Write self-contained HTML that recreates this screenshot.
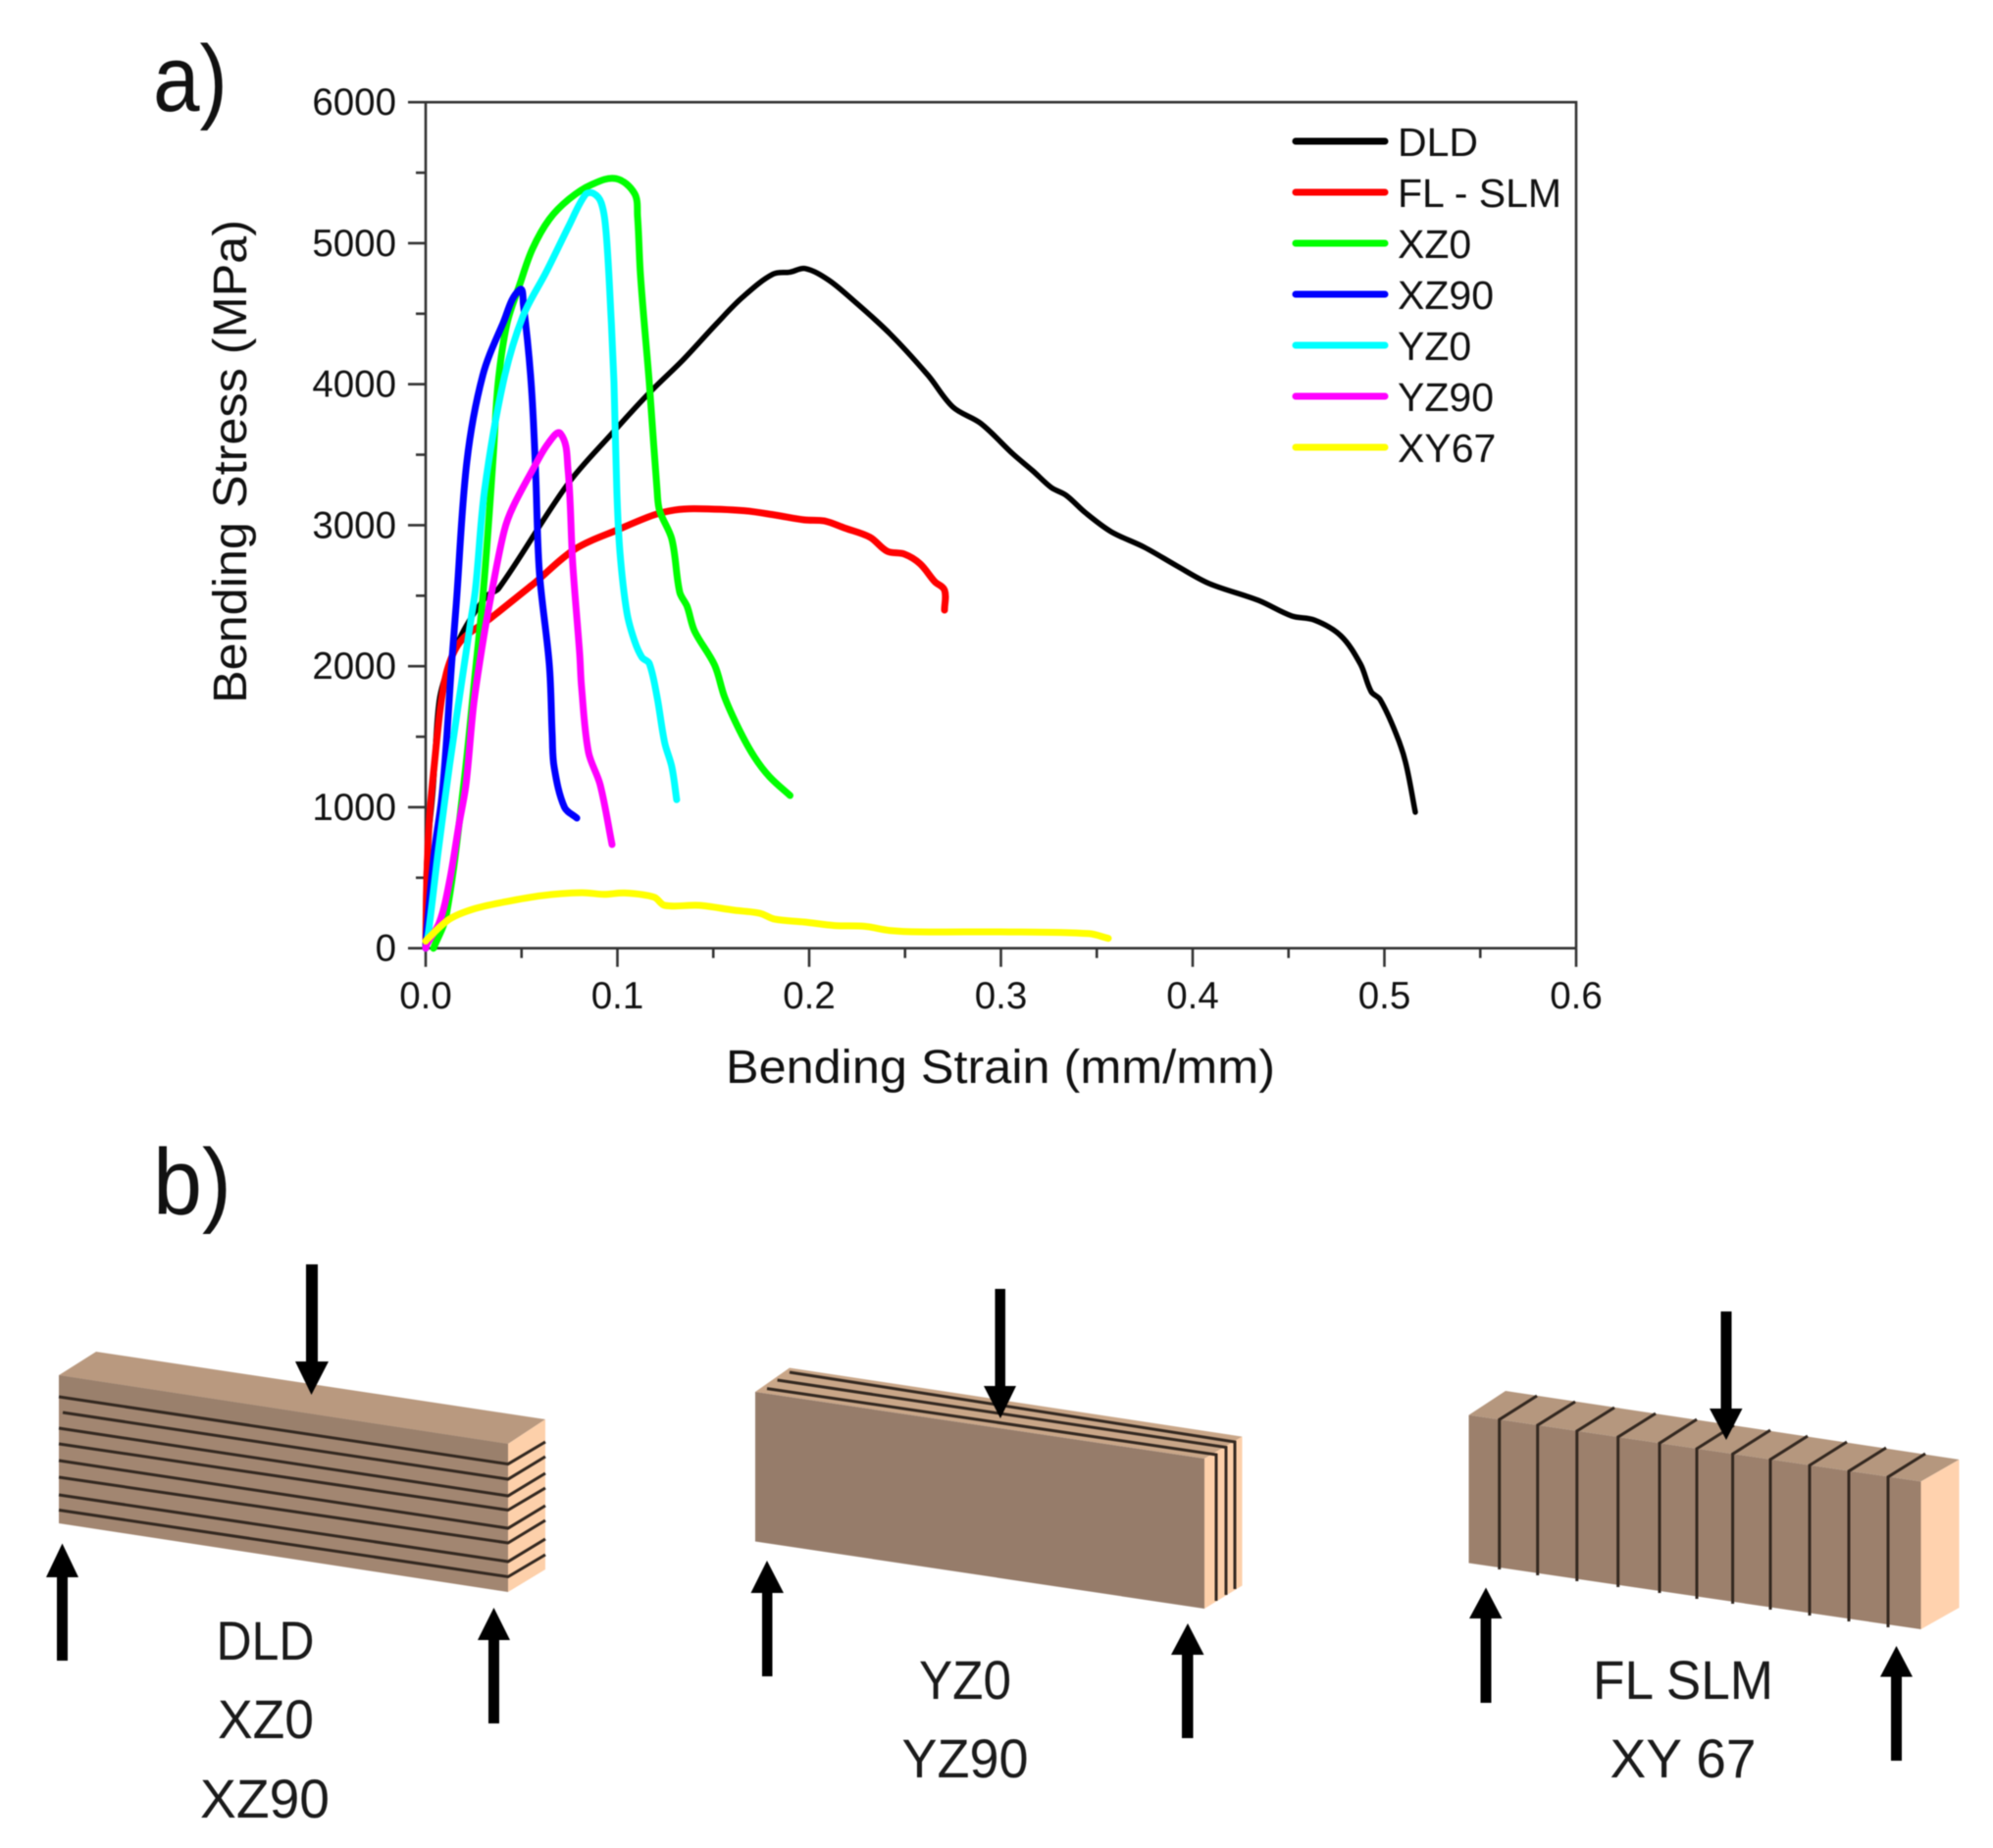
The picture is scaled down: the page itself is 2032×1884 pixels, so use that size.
<!DOCTYPE html>
<html lang="en">
<head>
<meta charset="utf-8">
<title>Bending stress-strain chart and specimen orientations</title>
<style>
html,body{margin:0;padding:0;background:#fff;width:2032px;height:1884px;overflow:hidden}
svg{display:block;filter:blur(.5px)}
text{font-family:"Liberation Sans",sans-serif;fill:#111}
.tick{font-size:38.5px}
.title{font-size:48px}
.legend{font-size:41px}
.panel{font-size:96px;fill:#111}
.sub{font-size:56px;text-anchor:middle;fill:#1a1a1a}
.arrow{fill:#000}
.gap{stroke:#332820;stroke-width:3;fill:none}
</style>
</head>
<body>
<svg id="figure" xmlns="http://www.w3.org/2000/svg" width="2032" height="1884" viewBox="0 0 2032 1884">
  <rect width="2032" height="1884" fill="#fff"/>
  <text class="panel" x="156" y="113" textLength="76" lengthAdjust="spacingAndGlyphs">a)</text>
  <text class="panel" x="156" y="1238" textLength="80" lengthAdjust="spacingAndGlyphs">b)</text>

  <g id="chart"></g>

  <text class="title" x="1020" y="1104" text-anchor="middle" textLength="560" lengthAdjust="spacingAndGlyphs">Bending Strain (mm/mm)</text>
  <text class="title" transform="translate(251 470.5) rotate(-90)" text-anchor="middle" textLength="493" lengthAdjust="spacingAndGlyphs">Bending Stress (MPa)</text>

  <!-- Specimen 1: DLD / XZ0 / XZ90 -->
  <g>
    <polygon points="60,1402 98,1378 556,1447 518,1472" fill="#b9997f"/>
    <polygon points="60,1402 518,1472 518,1623 60,1553" fill="#a28671"/>
    <polygon points="60,1402 518,1472 518,1492 60,1424" fill="#9a806c"/>
    <polygon points="518,1472 556,1447 556,1600 518,1623" fill="#fdd0aa"/>
    <path class="gap" d="M60 1424L518 1492.6L556 1470M64 1440L518 1508L556 1485M60 1456L518 1525L556 1502M60 1472L518 1539.5L556 1517M60 1489L518 1558L556 1535M60 1506L518 1573L556 1550M60 1524L518 1592L556 1569M60 1539.5L518 1607.5L556 1585"/>
    <polygon class="arrow" points="312,1289 324,1289 324,1388 335,1388 317.5,1422 301,1388 312,1388"/>
    <polygon class="arrow" points="63.5,1573.5 80,1608 69,1608 69,1693 58,1693 58,1608 47,1608"/>
    <polygon class="arrow" points="503.5,1639 520,1672 509,1672 509,1757 498,1757 498,1672 487,1672"/>
    <text class="sub" x="270.5" y="1692" textLength="100" lengthAdjust="spacingAndGlyphs">DLD</text>
    <text class="sub" x="271" y="1772" textLength="98" lengthAdjust="spacingAndGlyphs">XZ0</text>
    <text class="sub" x="270" y="1853" textLength="132" lengthAdjust="spacingAndGlyphs">XZ90</text>
  </g>

  <!-- Specimen 2: YZ0 / YZ90 -->
  <g>
    <polygon points="770,1419 805,1394.5 1266.5,1464.6 1228,1487" fill="#c9a688"/>
    <polygon points="1228,1487 1266.5,1464.6 1266.5,1616.5 1228,1640" fill="#fdd0aa"/>
    <polygon points="770,1419 1228,1487 1228,1640 770,1571.5" fill="#967c6a"/>
    <path class="gap" d="M782 1415.6L1240 1483V1632M792.6 1407L1250 1475.5V1626M805 1399L1259 1470V1620"/>
    <polygon class="arrow" points="1014.5,1314 1025,1314 1025,1413 1036,1413 1020,1446 1003,1413 1014.5,1413"/>
    <polygon class="arrow" points="782,1591 799,1624 787.5,1624 787.5,1709 777,1709 777,1624 765.5,1624"/>
    <polygon class="arrow" points="1211,1655 1227.5,1687 1216.5,1687 1216.5,1772 1205,1772 1205,1687 1194,1687"/>
    <text class="sub" x="984" y="1732" textLength="94" lengthAdjust="spacingAndGlyphs">YZ0</text>
    <text class="sub" x="984" y="1812" textLength="129" lengthAdjust="spacingAndGlyphs">YZ90</text>
  </g>

  <!-- Specimen 3: FL SLM / XY 67 -->
  <g>
    <polygon points="1497.5,1442.6 1535,1418 1997.5,1488 1958.5,1510.4" fill="#b5977e"/>
    <polygon points="1497.5,1442.6 1958.5,1510.4 1958.5,1661 1497.5,1593.5" fill="#9c806c"/>
    <polygon points="1958.5,1510.4 1997.5,1488 1997.5,1639 1958.5,1661" fill="#ffd2ae"/>
    <path class="gap" d="M1528.7 1600V1447.2L1567 1423M1567.7 1606V1453L1606 1429M1607.8 1612V1458.9L1646 1435M1649.7 1618V1465L1688 1441M1692 1624V1471.3L1730 1447M1730 1630V1476.9L1768 1453M1766.6 1635V1482.3L1805 1458M1805 1641V1488L1843 1464M1845 1647V1493.9L1883 1470M1885 1653V1499.8L1923 1476M1925 1659V1505.7L1963 1482"/>
    <polygon class="arrow" points="1754.5,1337 1765.5,1337 1765.5,1436 1776.5,1436 1760,1468 1743,1436 1754.5,1436"/>
    <polygon class="arrow" points="1515,1618.5 1531.5,1650 1520.5,1650 1520.5,1736 1509.5,1736 1509.5,1650 1498,1650"/>
    <polygon class="arrow" points="1933.5,1678 1950,1709.5 1939,1709.5 1939,1795 1928,1795 1928,1709.5 1917,1709.5"/>
    <text class="sub" x="1716" y="1732" textLength="184" lengthAdjust="spacingAndGlyphs">FL SLM</text>
    <text class="sub" x="1716" y="1812" textLength="149" lengthAdjust="spacingAndGlyphs">XY 67</text>
  </g>
</svg>

<script>
// ---- axis ticks ----
const xTickValues = [0, 0.1, 0.2, 0.3, 0.4, 0.5, 0.6];
const xTickLabels = ['0.0', '0.1', '0.2', '0.3', '0.4', '0.5', '0.6'];
const xMinorValues = [0.05, 0.15, 0.25, 0.35, 0.45, 0.55];
const yTickValues = [0, 1000, 2000, 3000, 4000, 5000, 6000];
const yTickLabels = ['0', '1000', '2000', '3000', '4000', '5000', '6000'];
const yMinorValues = [500, 1500, 2500, 3500, 4500, 5500];

// ---- series (strain, stress) ----
const dldStrain = [0, 0.0005, 0.004, 0.007, 0.012, 0.02, 0.032, 0.038, 0.074, 0.098, 0.116, 0.134, 0.152, 0.1655, 0.181, 0.19, 0.198, 0.21, 0.223, 0.242, 0.262, 0.275, 0.2895, 0.3064, 0.3166, 0.3263, 0.334, 0.3442, 0.3575, 0.3749, 0.3918, 0.4087, 0.4343, 0.4517, 0.4634, 0.4772, 0.4875, 0.4931, 0.4977, 0.5059, 0.511, 0.5161];
const dldStress = [0, 600, 1150, 1750, 2000, 2258, 2500, 2550, 3290, 3663, 3930, 4170, 4434, 4620, 4780, 4795, 4820, 4740, 4595, 4360, 4063, 3838, 3722, 3504, 3386, 3267, 3212, 3087, 2954, 2843, 2711, 2586, 2467, 2356, 2328, 2217, 2015, 1820, 1765, 1528, 1320, 965];
const flSlmStrain = [0, 0.0006, 0.002, 0.0045, 0.008, 0.0117, 0.0184, 0.034, 0.054, 0.0568, 0.0777, 0.1015, 0.119, 0.13, 0.14, 0.166, 0.182, 0.1975, 0.208, 0.2185, 0.2317, 0.2407, 0.2496, 0.2578, 0.2655, 0.2706, 0.2706];
const flSlmStress = [0, 510, 930, 1300, 1737, 1995, 2180, 2342, 2560, 2590, 2829, 2975, 3073, 3108, 3117, 3103, 3073, 3038, 3030, 2980, 2915, 2815, 2795, 2727, 2600, 2540, 2398];
const xz0Strain = [0.0041, 0.0107, 0.02, 0.0251, 0.0302, 0.0353, 0.0378, 0.0424, 0.049, 0.0557, 0.0645, 0.0747, 0.0864, 0.0992, 0.1089, 0.1105, 0.112, 0.1166, 0.1207, 0.122, 0.1284, 0.1325, 0.1363, 0.1402, 0.1507, 0.1559, 0.1637, 0.1714, 0.1794, 0.19];
const xz0Stress = [0, 230, 1180, 1855, 2550, 3500, 4012, 4430, 4705, 4960, 5170, 5312, 5415, 5458, 5353, 5193, 4775, 4012, 3245, 3103, 2900, 2525, 2425, 2250, 2008, 1780, 1545, 1357, 1215, 1083];
const xz90Strain = [0, 0.0005, 0.0046, 0.0082, 0.0105, 0.0133, 0.0159, 0.0215, 0.0297, 0.0404, 0.049, 0.051, 0.055, 0.0573, 0.0593, 0.0645, 0.066, 0.067, 0.0724, 0.0788];
const xz90Stress = [0, 116, 694, 1042, 1400, 1972, 2433, 3450, 4060, 4435, 4670, 4560, 4012, 3400, 2670, 2008, 1515, 1285, 1000, 923];
const yz0Strain = [0, 0.0015, 0.0066, 0.0125, 0.0184, 0.0235, 0.026, 0.0307, 0.0404, 0.0506, 0.0629, 0.0747, 0.0834, 0.0875, 0.0916, 0.0941, 0.0967, 0.0982, 0.0997, 0.1013, 0.1049, 0.1089, 0.1128, 0.1166, 0.1207, 0.1246, 0.1284, 0.1309];
const yz0Stress = [0, 116, 694, 1300, 1855, 2320, 2550, 3245, 4012, 4478, 4797, 5123, 5346, 5353, 5285, 5075, 4478, 4012, 3245, 2815, 2383, 2180, 2063, 2020, 1780, 1460, 1285, 1053];
const yz90Strain = [0, 0.0005, 0.0072, 0.0123, 0.0174, 0.021, 0.0251, 0.0302, 0.0348, 0.0409, 0.0455, 0.056, 0.0639, 0.0703, 0.0742, 0.0767, 0.0803, 0.0813, 0.0849, 0.091, 0.0972];
const yz90Stress = [0, 26, 185, 464, 880, 1160, 1737, 2200, 2550, 2958, 3130, 3398, 3580, 3650, 3398, 2730, 2090, 1855, 1390, 1160, 735];
const xy67Strain = [0, 0.0005, 0.0123, 0.0245, 0.04, 0.0604, 0.0813, 0.0931, 0.1037, 0.1192, 0.1246, 0.1427, 0.1611, 0.1742, 0.182, 0.1975, 0.2133, 0.229, 0.242, 0.2578, 0.2997, 0.3458, 0.356];
const xy67Stress = [50, 60, 205, 276, 325, 373, 394, 382, 392, 362, 304, 304, 269, 248, 206, 186, 161, 155, 126, 116, 116, 104, 70];

const seriesNames = ['DLD', 'FL - SLM', 'XZ0', 'XZ90', 'YZ0', 'YZ90', 'XY67'];
const seriesColors = ['#000000', '#ff0000', '#00ff00', '#0000ff', '#00ffff', '#ff00ff', '#ffff00'];
const seriesStrain = [dldStrain, flSlmStrain, xz0Strain, xz90Strain, yz0Strain, yz90Strain, xy67Strain];
const seriesStress = [dldStress, flSlmStress, xz0Stress, xz90Stress, yz0Stress, yz90Stress, xy67Stress];

const NS = 'http://www.w3.org/2000/svg';
const chart = document.getElementById('chart');
const xScale = v => 434 + v * 1955;
const yScale = v => 966.7 - v * 0.14375;

function make(tag, attrs, parent) {
  const el = document.createElementNS(NS, tag);
  for (const k in attrs) el.setAttribute(k, attrs[k]);
  (parent || chart).appendChild(el);
  return el;
}

// Smooth path through the scaled points; tangents are limited so curves never overshoot.
function smoothPath(xs, ys) {
  const pts = xs.map((v, i) => [xScale(v), yScale(ys[i])]);
  const dist = (a, b) => Math.hypot(a[0] - b[0], a[1] - b[1]);
  const tangent = i => {
    const a = pts[Math.max(i - 1, 0)];
    const b = pts[Math.min(i + 1, pts.length - 1)];
    const len = dist(a, b) || 1;
    return [(b[0] - a[0]) / len, (b[1] - a[1]) / len];
  };
  let d = 'M' + pts[0][0].toFixed(1) + ' ' + pts[0][1].toFixed(1);
  for (let i = 0; i < pts.length - 1; i++) {
    const p = pts[i], q = pts[i + 1];
    const h = dist(p, q) / 3;
    const t0 = tangent(i), t1 = tangent(i + 1);
    d += 'C' + (p[0] + t0[0] * h).toFixed(1) + ' ' + (p[1] + t0[1] * h).toFixed(1) + ' ' +
         (q[0] - t1[0] * h).toFixed(1) + ' ' + (q[1] - t1[1] * h).toFixed(1) + ' ' +
         q[0].toFixed(1) + ' ' + q[1].toFixed(1);
  }
  return d;
}

const axisStyle = { stroke: '#333', 'stroke-width': 2.6, fill: 'none' };
const x0 = xScale(0), x1 = xScale(0.6), y0 = yScale(0), y1 = yScale(6000);

const frame = make('path', Object.assign({ d: `M${x0} ${y1}H${x1}V${y0}` }, axisStyle));



const yAxisLine = make('line', Object.assign({ x1: x0, x2: x0, y1: y1, y2: y0 }, axisStyle));



const xAxisLine = make('line', Object.assign({ x1: x0, x2: x1, y1: y0, y2: y0 }, axisStyle));



xTickValues.forEach((v, i) => {
  const tick = make('line', Object.assign({ x1: xScale(v), x2: xScale(v), y1: y0, y2: y0 + 19 }, axisStyle));
  
  
  const label = make('text', { class: 'tick', x: xScale(v), y: 1028, 'text-anchor': 'middle' });
  label.textContent = xTickLabels[i];
  
  
});
xMinorValues.forEach(v => {
  const tick = make('line', Object.assign({ x1: xScale(v), x2: xScale(v), y1: y0, y2: y0 + 10 }, axisStyle));
  
  
});
yTickValues.forEach((v, i) => {
  const tick = make('line', Object.assign({ x1: x0 - 18, x2: x0, y1: yScale(v), y2: yScale(v) }, axisStyle));
  
  
  const label = make('text', { class: 'tick', x: 404, y: yScale(v) + 13, 'text-anchor': 'end' });
  label.textContent = yTickLabels[i];
  
  
});
yMinorValues.forEach(v => {
  const tick = make('line', Object.assign({ x1: x0 - 10, x2: x0, y1: yScale(v), y2: yScale(v) }, axisStyle));
  
  
});

seriesNames.forEach((name, s) => {
  const line = make('path', {
    d: smoothPath(seriesStrain[s], seriesStress[s]), fill: 'none', stroke: seriesColors[s],
    'stroke-width': s === 0 ? 5.5 : 7,
    'stroke-linejoin': 'round', 'stroke-linecap': 'round'
  });
  
  
});

seriesNames.forEach((name, s) => {
  const rowY = 144 + s * 52;
  const swatch = make('line', {
    x1: 1321, x2: 1412, y1: rowY, y2: rowY, stroke: seriesColors[s],
    'stroke-width': 7, 'stroke-linecap': 'round'
  });
  
  
  const label = make('text', { class: 'legend', x: 1425, y: rowY + 15 });
  label.textContent = name;
  
  
});
</script>
</body>
</html>
